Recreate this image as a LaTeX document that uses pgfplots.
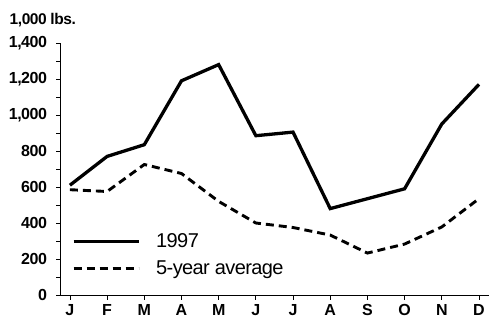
\documentclass[border=0pt]{standalone}
\usepackage{pgfplots}
\pgfplotsset{compat=1.18}
\usepackage{fontspec}
\setmainfont{Liberation Sans}
\newfontfamily\tight{Liberation Sans}[LetterSpace=-3]
\newfontfamily\legfont{Liberation Sans}[LetterSpace=-3]
\begin{document}
\begin{tikzpicture}
\useasboundingbox (-61pt,-24pt) rectangle (428pt,295pt);
\begin{axis}[
  scale only axis,
  width=428pt, height=252pt,
  xmin=-0.24, xmax=11.27,
  ymin=0, ymax=1400,
  axis x line*=bottom, axis y line*=left,
  axis line style={-, line width=1pt},
  xtick={0,...,11},
  xticklabels={J,F,M,A,M,J,J,A,S,O,N,D},
  ytick={0,200,...,1400},
  minor ytick={100,300,...,1300},
  tick align=outside,
  major tick length=4.5pt, minor tick length=4.5pt,
  tick style={line width=0.8pt, black},
  /pgf/number format/assume math mode=true,
  /pgf/number format/1000 sep={,},
  ticklabel style={font=\tight\bfseries\fontsize{16}{16}\selectfont},
  yticklabel style={xshift=-6pt},
  xticklabel style={yshift=-1.5pt},
  legend cell align=left,
  legend style={draw=none, fill=none, at={(axis description cs:0.025,0.253)}, anchor=north west,
    font=\legfont\fontsize{20}{20}\selectfont, row sep=8pt, column sep=14pt, inner sep=0pt},
  legend image code/.code={\draw[#1] (0pt,0pt) -- (65pt,0pt);},
  clip=false,
]
\addplot[black, line width=3.3pt, line join=miter] coordinates {
(0,610) (1,770) (2,835) (3,1190) (4,1280) (5,885) (6,905) (7,480) (8,535) (9,590) (10,950) (11,1170)};
\addlegendentry{1997}
\addplot[black, line width=2.9pt, dash pattern=on 8pt off 5pt] coordinates {
(0,585) (1,575) (2,725) (3,675) (4,520) (5,400) (6,375) (7,333) (8,233) (9,283) (10,378) (11,535)};
\addlegendentry{5-year average}
\node[anchor=base west, font=\tight\bfseries\fontsize{15.5}{15.5}\selectfont] at (axis description cs:-0.128,1.075) {1,000 lbs.};
\end{axis}
\end{tikzpicture}
\end{document}
